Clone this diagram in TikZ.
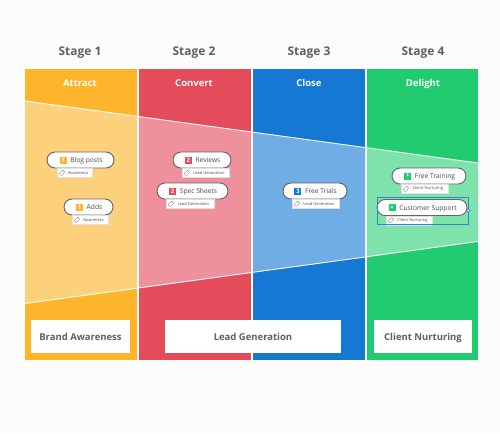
\documentclass[tikz,border=0pt]{standalone}
\usepackage{fontspec}
\setmainfont{Open Sans}
\usepackage{xcolor}
\usetikzlibrary{positioning}
\definecolor{cPage}{RGB}{252,252,252}
\definecolor{cOrange}{RGB}{254,181,43}
\definecolor{cOrangeL}{RGB}{253,209,123}
\definecolor{cRed}{RGB}{228,75,91}
\definecolor{cRedL}{RGB}{239,145,157}
\definecolor{cBlue}{RGB}{21,120,211}
\definecolor{cBlueL}{RGB}{111,173,228}
\definecolor{cGreen}{RGB}{32,204,111}
\definecolor{cGreenL}{RGB}{126,226,171}
\definecolor{cText}{RGB}{95,95,100}
\tikzset{
	stagehead/.style={text height=5pt, text depth=0pt, font=\fontsize{6.8}{9}\selectfont\bfseries, text=cText},
	colhead/.style  ={text height=4pt, text depth=0pt, font=\fontsize{5.4}{8}\selectfont\bfseries, text=white},
	goalbox/.style  ={rectangle, fill=white, minimum height=0.66cm, inner sep=0pt, text height=4pt, text depth=0pt, font=\fontsize{5.4}{8}\selectfont\bfseries, text=cText},
	pill/.style     ={rectangle, rounded corners=0.16cm, draw=black!60, line width=0.55pt, fill=white, minimum height=0.32cm, inner sep=0pt},
	cardtext/.style ={inner sep=0pt, text height=3pt, text depth=0pt, font=\fontsize{3.8}{5}\selectfont, text=black!70},
	badge/.style    ={rectangle, minimum size=0.14cm, inner sep=0pt, text=white, font=\fontsize{3.4}{4}\selectfont\bfseries},
	tagbox/.style   ={rectangle, fill=white, draw=black!12, line width=0.2pt, minimum height=0.18cm, inner sep=0pt, font=\fontsize{2.3}{3}\selectfont, text=black!70},
	tagicon/.style  ={rectangle, rounded corners=0.3pt, draw=black!45, line width=0.25pt, minimum width=0.1cm, minimum height=0.06cm, inner sep=0pt, rotate=45},
}
\begin{document}
\begin{tikzpicture}[x=0.02cm, y=-0.02cm]
	\useasboundingbox (0,0) rectangle (500,433);
	\fill[cPage] (0,0) rectangle (500,433);
	% columns and the light band across them
	\foreach \xa/\xb/\ya/\yb/\ca/\cb in {25/137/101/116.3/cOrange/cOrangeL, 139/251/116.6/131.9/cRed/cRedL, 253/365/132.2/147.5/cBlue/cBlueL, 367/478/147.8/163/cGreen/cGreenL} {
		\fill[\ca] (\xa,69) rectangle (\xb,360);
		\pgfmathsetmacro{\yc}{404.5-\ya}
		\pgfmathsetmacro{\yd}{404.5-\yb}
		\fill[\cb] (\xa,\ya) -- (\xb,\yb) -- (\xb,\yd) -- (\xa,\yc) -- cycle;
		\draw[white, line width=0.5pt] (\xa,\ya) -- (\xb,\yb);
		\draw[white, line width=0.5pt] (\xa,\yc) -- (\xb,\yd);
	}
	\foreach \x/\n/\m in {80/1/Attract, 194/2/Convert, 309/3/Close, 423/4/Delight} {
		\node[stagehead] (stage\n) at (\x,51) {Stage \n};
		\node[colhead] (head\n) at (\x,83) {\m};
	}
	\node[goalbox, minimum width=1.98cm] (brand) at (80.5,336.5) {Brand Awareness};
	\node[goalbox, minimum width=3.52cm] (lead) at (253,336.5) {Lead Generation};
	\node[goalbox, minimum width=1.96cm] (client) at (423,336.5) {Client Nurturing};
	% cards: name/centre/width/text/colour/number/tag
	\foreach \n/\x/\y/\w/\t/\c/\k/\g/\gw/\gx in {
		blog/80.5/160/1.34/Blog posts/cOrange/1/Awareness/0.70/74.5,
		adds/88.5/207/0.98/Adds/cOrange/1/Awareness/0.72/90,
		reviews/202/160/1.16/Reviews/cRed/2/Lead Generation/0.94/205.5,
		spec/192.5/191/1.42/Spec Sheets/cRed/2/Lead Generation/0.96/190,
		trials/315/191/1.28/Free Trials/cBlue/3/Lead Generation/0.94/315.5,
		training/429/176/1.48/Free Training/cGreen/+/Client Nurturing/0.94/424.5,
		support/422/207.5/1.80/Customer Support/cGreen/+/Client Nurturing/0.92/409} {
		\node[pill, minimum width=\w cm] (\n) at (\x,\y) {};
		\node[cardtext, xshift=0.12cm] (\n label) at (\n.center) {\t};
		\node[badge, fill=\c, left=0.06cm of \n label] (\n icon) {\k};
		\node[tagbox, minimum width=\gw cm, anchor=north] (\n tag) at (\gx,\y+8.2) {\hspace{0.14cm}\g};
		\node[xshift=0.1cm, tagicon] (\n mark) at (\n tag.west) {};
	}
	% selection frame on the last card
	\node[draw=cBlue!90, line width=0.35pt, minimum width=1.82cm, minimum height=0.54cm, inner sep=0pt] (frame) at (422.5,210.5) {};
	\node[circle, draw=cBlue, fill=white, line width=0.35pt, minimum size=0.07cm, inner sep=0pt] (handle) at (frame.east) {};
\end{tikzpicture}
\end{document}
